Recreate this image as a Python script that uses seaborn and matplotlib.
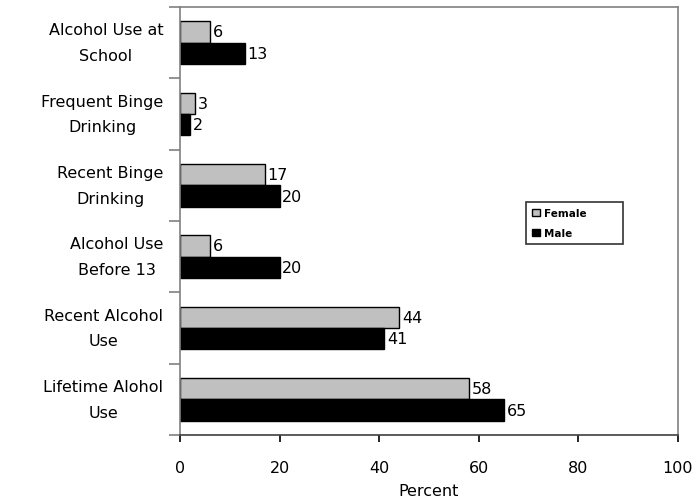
import matplotlib
matplotlib.use("Agg")
import matplotlib.pyplot as plt
import matplotlib.patches as mpatches
import seaborn as sns
import pandas as pd

categories = [
    "Alcohol Use at\nSchool",
    "Frequent Binge\nDrinking",
    "Recent Binge\nDrinking",
    "Alcohol Use\nBefore 13",
    "Recent Alcohol\nUse",
    "Lifetime Alohol\nUse",
]
female = [6, 3, 17, 6, 44, 58]
male = [13, 2, 20, 20, 41, 65]
series = ["Female", "Male"]
colors = {"Female": "#c0c0c0", "Male": "#000000"}
x_ticks = [0, 20, 40, 60, 80, 100]

df = pd.DataFrame({
    "Category": categories * 2,
    "Percent": female + male,
    "Sex": ["Female"] * len(categories) + ["Male"] * len(categories),
})

sns.set_style("white")
plt.rcParams["font.family"] = ["DejaVu Sans"]
plt.rcParams["text.color"] = "black"
plt.rcParams["xtick.color"] = "black"
plt.rcParams["ytick.color"] = "black"
plt.rcParams["axes.labelcolor"] = "black"

FS = 11.5

fig = plt.figure(figsize=(6.96, 5.02), dpi=100)
ax = fig.add_axes([0.2586, 0.1315, 0.7154, 0.8525])

sns.barplot(
    data=df, y="Category", x="Percent", hue="Sex",
    order=categories, hue_order=series, palette=colors,
    orient="h", width=0.6, edgecolor="black", linewidth=1.0,
    saturation=1, legend=False, ax=ax,
)

for cont in ax.containers:
    ax.bar_label(cont, fmt="%g", padding=2, fontsize=FS, color="black")

ax.set_xlim(0, 100)
ax.set_ylim(len(categories) - 0.5, -0.5)
ax.set_xticks(x_ticks)
ax.set_xticklabels([str(t) for t in x_ticks], fontsize=FS)
ax.set_xlabel("Percent", fontsize=FS, labelpad=6)
ax.set_ylabel("")
ax.tick_params(axis="x", bottom=True, direction="out", length=5, width=1.2,
               color="black", pad=13)

ax.set_yticks(range(len(categories)))
ax.set_yticklabels(categories, fontsize=FS, multialignment="center",
                   linespacing=1.9, va="center")
ax.tick_params(axis="y", which="major", left=True, length=0, pad=12)
ax.set_yticks([i - 0.5 for i in range(len(categories) + 1)], minor=True)
ax.tick_params(axis="y", which="minor", left=True, direction="out", length=8,
               width=1.2, color="#808080")

for side in ("left", "top", "right"):
    ax.spines[side].set_color("#808080")
    ax.spines[side].set_linewidth(1.2)
ax.spines["bottom"].set_color("#404040")
ax.spines["bottom"].set_linewidth(1.2)

handles = [mpatches.Patch(facecolor=colors[s], edgecolor="black", linewidth=1.0, label=s)
           for s in series]
leg = ax.legend(
    handles=handles, loc="lower left", bbox_to_anchor=(0.695, 0.446, 0.195, 0.119),
    mode="expand", fontsize=7.5, frameon=True, fancybox=False, edgecolor="black",
    handlelength=0.7, handleheight=0.7, handletextpad=0.4, borderpad=0.6,
    labelspacing=0.9, borderaxespad=0,
)
leg.get_frame().set_linewidth(1.2)
for t in leg.get_texts():
    t.set_fontweight("bold")

fig.savefig("out.png", dpi=100)
